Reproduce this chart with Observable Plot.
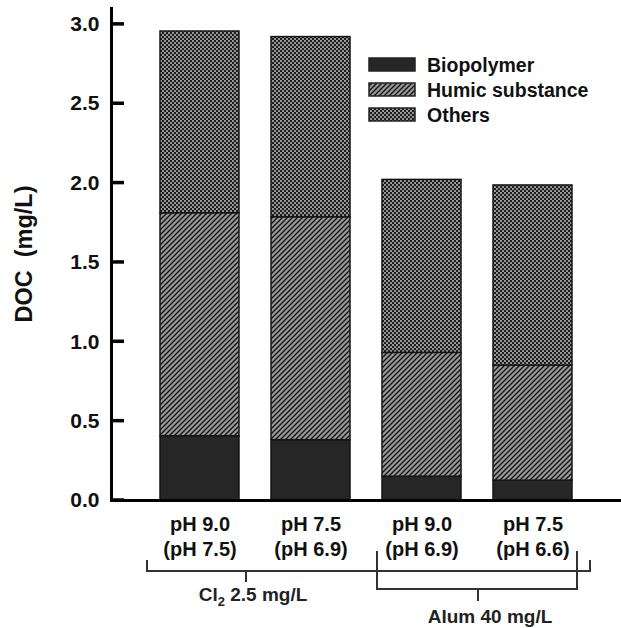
<!DOCTYPE html>
<html><head><meta charset="utf-8">
<script src="https://cdn.jsdelivr.net/npm/d3@7"></script>
<script src="https://cdn.jsdelivr.net/npm/@observablehq/plot@0.6"></script>
<style>html,body{margin:0;padding:0;background:#fff;}</style>
</head><body><div id="chart"></div>
<script>
const categories = ["pH 9.0\n(pH 7.5)", "pH 7.5\n(pH 6.9)", "pH 9.0\n(pH 6.9)", "pH 7.5\n(pH 6.6)"];
const series = ["Biopolymer", "Humic substance", "Others"];
const biopolymer = [0.405, 0.38, 0.15, 0.125];
const humic = [1.405, 1.405, 0.78, 0.725];
const others = [1.145, 1.135, 1.09, 1.135];
const yTicks = [0, 0.5, 1.0, 1.5, 2.0, 2.5, 3.0];
const yLabel = "DOC\u00a0 (mg/L)";
const groupLabels = ["Cl", "Alum 40 mg/L"];

const seriesValues = [biopolymer, humic, others];
const rows = [];
categories.forEach((c, i) => series.forEach((s, j) => rows.push({cat: c, type: s, value: seriesValues[j][i]})));

const fills = ["#262626", "url(#hatch)", "url(#cross)"];
const FONT = "Arial, 'Liberation Sans', sans-serif";
const W = 621, ML = 111, MR = 0;

const chart = Plot.plot({
  width: W, height: 628,
  marginTop: 8, marginBottom: 128, marginLeft: ML, marginRight: MR,
  style: {fontFamily: FONT, color: "#111", background: "#fff"},
  x: {domain: categories, paddingInner: 0.29, paddingOuter: 0.44},
  y: {domain: [0, 3.1]},
  color: {type: "ordinal", domain: series, range: fills},
  marks: [
    Plot.barY(rows, {x: "cat", y: "value", fill: "type", stroke: "#151515", strokeWidth: 1.5}),
    Plot.frame({anchor: "left", strokeWidth: 3, stroke: "#000"}),
    Plot.frame({anchor: "bottom", strokeWidth: 3, stroke: "#000"}),
    Plot.axisY({ticks: yTicks, tickFormat: d => d.toFixed(1), tickSize: 0, tickPadding: 12,
      fontSize: 21, fontWeight: "bold", label: null, fill: "#111"}),
    Plot.axisX({tickSize: 0, tickPadding: 13, fontSize: 20, fontWeight: "bold", lineHeight: 1.25, label: null, fill: "#111"})
  ]
});
document.getElementById("chart").appendChild(chart);

const svg = d3.select(chart);
const defs = svg.insert("defs", ":first-child");
const hatch = defs.append("pattern").attr("id", "hatch").attr("patternUnits", "userSpaceOnUse").attr("width", 5).attr("height", 5);
hatch.append("rect").attr("width", 5).attr("height", 5).attr("fill", "#999");
hatch.append("path").attr("d", "M-1,1 L1,-1 M0,5 L5,0 M4,6 L6,4").attr("stroke", "#111").attr("stroke-width", 1.35);
const cross = defs.append("pattern").attr("id", "cross").attr("patternUnits", "userSpaceOnUse").attr("width", 4).attr("height", 4);
cross.append("rect").attr("width", 4).attr("height", 4).attr("fill", "#1c1c1c");
cross.append("circle").attr("cx", 1).attr("cy", 1).attr("r", 1.05).attr("fill", "#a8a8a8");
cross.append("circle").attr("cx", 3).attr("cy", 3).attr("r", 1.05).attr("fill", "#a8a8a8");

// inward y ticks, placed with the plot's y scale
const ys = chart.scale("y");
const tg = svg.append("g").attr("stroke", "#000").attr("stroke-width", 3.5);
yTicks.forEach(t => {
  const y = ys.apply(t);
  tg.append("line").attr("x1", ML).attr("x2", ML + 13).attr("y1", y).attr("y2", y);
});

// y label
svg.append("text").attr("transform", "translate(32,254) rotate(-90)").attr("text-anchor", "middle")
  .attr("font-family", FONT).attr("font-size", 23.5).attr("font-weight", "bold").attr("fill", "#111").text(yLabel);

// legend
const lg = svg.append("g").attr("font-family", FONT).attr("font-size", 19.5).attr("font-weight", "bold").attr("text-anchor", "start");
series.forEach((s, i) => {
  const y = 58 + i * 25;
  lg.append("rect").attr("x", 369).attr("y", y).attr("width", 46).attr("height", 13)
    .attr("fill", fills[i]).attr("stroke", "#222").attr("stroke-width", 1.5);
  lg.append("text").attr("x", 427).attr("y", y + 14).attr("fill", "#111").text(s);
});

// group brackets (positions in bar-index units, converted with the x scale)
const xs = chart.scale("x");
const step = xs.step, c0 = xs.apply(categories[0]) + xs.bandwidth / 2;
const px = p => c0 + p * step;
const y0 = ys.apply(0);
const brackets = [
  {left: -0.473, right: 3.518, tick: 0.419, text: 0.482, top: 60, bar: 71, tickEnd: 82, textY: 101},
  {left: 1.599, right: 3.401, tick: 2.509, text: 2.617, top: 51, bar: 89, tickEnd: 101, textY: 123}
];
const bg = svg.append("g").attr("stroke", "#333").attr("stroke-width", 2).attr("fill", "none");
brackets.forEach(b => {
  bg.append("path").attr("d",
    `M${px(b.left)},${y0 + b.top}V${y0 + b.bar}H${px(b.right)}V${y0 + b.top}M${px(b.tick)},${y0 + b.bar}V${y0 + b.tickEnd}`);
});
const t1 = svg.append("text").attr("x", px(brackets[0].text)).attr("y", y0 + brackets[0].textY).attr("text-anchor", "middle")
  .attr("font-family", FONT).attr("font-size", 19).attr("font-weight", "bold").attr("fill", "#222");
t1.append("tspan").text(groupLabels[0]);
t1.append("tspan").attr("font-size", 13).attr("dy", 5).text("2");
t1.append("tspan").attr("dy", -5).text(" 2.5 mg/L");
svg.append("text").attr("x", px(brackets[1].text)).attr("y", y0 + brackets[1].textY).attr("text-anchor", "middle")
  .attr("font-family", FONT).attr("font-size", 19).attr("font-weight", "bold").attr("fill", "#222").text(groupLabels[1]);
</script>
</body></html>
